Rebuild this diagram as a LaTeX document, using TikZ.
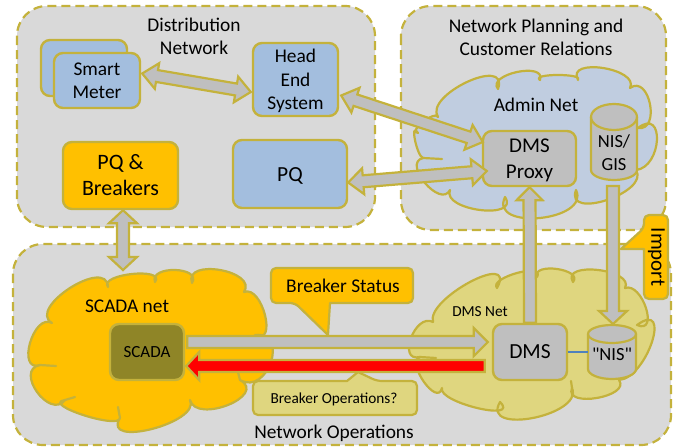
\documentclass[tikz,border=0pt]{standalone}
\usepackage{fontspec}
\setmainfont{Carlito}
\newfontfamily\plainf{Carlito}
\usetikzlibrary{calc}
\definecolor{lineol}{HTML}{C4B23C}
\definecolor{panelgr}{HTML}{D9D9D9}
\definecolor{boxblue}{HTML}{A3BEDE}
\definecolor{cloudblue}{HTML}{C0CDE0}
\definecolor{amber}{HTML}{FFC000}
\definecolor{midgr}{HTML}{BFBFBF}
\definecolor{paleol}{HTML}{DFD67F}
\definecolor{darkol}{HTML}{8F8527}
\definecolor{linkblue}{HTML}{4F81BD}
\newcommand{\low}[2]{\raisebox{-#1}[\height][\depth]{\begin{tabular}{@{}c@{}}#2\end{tabular}}}
\newcommand{\lobe}[3]{.. controls ($(#1)!-0.22!(#3)+1.3333*(#2)-0.6667*(#1)-0.6667*(#3)$) and ($(#3)!-0.22!(#1)+1.3333*(#2)-0.6667*(#1)-0.6667*(#3)$) .. (#3)}
\newcommand{\twoway}[6][arrowbody]{\draw[#1] (#2)
 -- ($(#2)!#6!(#3)!#5!90:(#3)$) -- ($(#2)!#6!(#3)!#4!90:(#3)$)
 -- ($(#3)!#6!(#2)!#4!-90:(#2)$) -- ($(#3)!#6!(#2)!#5!-90:(#2)$)
 -- (#3)
 -- ($(#3)!#6!(#2)!#5!90:(#2)$) -- ($(#3)!#6!(#2)!#4!90:(#2)$)
 -- ($(#2)!#6!(#3)!#4!-90:(#3)$) -- ($(#2)!#6!(#3)!#5!-90:(#3)$) -- cycle;}
\newcommand{\oneway}[6][arrowbody]{\draw[#1] ($(#2)!#4!90:(#3)$)
 -- ($(#3)!#6!(#2)!#4!-90:(#2)$) -- ($(#3)!#6!(#2)!#5!-90:(#2)$)
 -- (#3)
 -- ($(#3)!#6!(#2)!#5!90:(#2)$) -- ($(#3)!#6!(#2)!#4!90:(#2)$)
 -- ($(#2)!#4!-90:(#3)$) -- cycle;}
\tikzset{
 panel/.style={draw=lineol,fill=panelgr,line width=2.2pt,dash pattern=on 9pt off 5pt,rounded corners=30pt},
 cloudline/.style={draw=lineol,line width=2.2pt,line join=round},
 tail/.style={draw=lineol,line width=2.2pt,line cap=round},
 boxnode/.style={draw=lineol,line width=2.4pt,rounded corners=9pt,inner sep=0pt,align=center,font=\fontsize{19.4}{23.5}\selectfont},
 bluebox/.style={boxnode,fill=boxblue},
 label/.style={inner sep=0pt,align=center,font=\fontsize{19.4}{23}\selectfont},
 cyl/.style={draw=lineol,fill=midgr,line width=2.2pt},
 callout/.style={draw=lineol,line width=2.2pt,line join=round},
 arrowbody/.style={draw=lineol,fill=midgr,line width=2.2pt,line join=miter,miter limit=3},
 redbody/.style={draw=lineol,fill=red,line width=2.2pt,line join=miter,miter limit=3},
}
\begin{document}
\begin{tikzpicture}[x=1pt,y=-1pt]
\useasboundingbox (0,0) rectangle (676,447);
% panels
\path[panel] (17,6) rectangle (375,227);
\path[panel] (401,6) rectangle (666,230);
\path[panel] (13,244) rectangle (671,445);
\node[label] (tdist) at (194,36.5) {Distribution\\Network};
\node[label] (tplan) at (536,37.5) {Network Planning and\\Customer Relations};
\node[label] (tops) at (334,433) {Network Operations};
% clouds
\path[cloudline,fill=cloudblue] (438,117) \lobe{438,117}{467,82}{498,89} \lobe{498,89}{517,72}{540,80} \lobe{540,80}{558,75}{578,80} \lobe{578,80}{603,68}{630,88} \lobe{630,88}{650,104}{638,128} \lobe{638,128}{657,140}{636,170} \lobe{636,170}{607,200}{576,190} \lobe{576,190}{540,218}{505,197} \lobe{505,197}{480,210}{450,190} \lobe{450,190}{425,183}{423,158} \lobe{423,158}{415,140}{418,133} \lobe{418,133}{423,122}{438,117} -- cycle;
\draw[tail] (423,158) -- (442,159);
\path[cloudline,fill=amber] (52,323) \lobe{52,323}{70,288}{108,287} \lobe{108,287}{132,274}{155,282} \lobe{155,282}{175,270}{192,283} \lobe{192,283}{220,270}{244,292} \lobe{244,292}{265,315}{255,335} \lobe{255,335}{271,362}{240,380} \lobe{240,380}{228,405}{190,400} \lobe{190,400}{152,429}{120,418} \lobe{120,418}{83,415}{65,400} \lobe{65,400}{37,392}{40,365} \lobe{40,365}{30,343}{52,323} -- cycle;
\draw[tail] (40,365) -- (56,366);
\draw[tail] (240,380) -- (238,372);
\draw[tail] (120,418) -- (118,407);
\draw[tail] (65,400) -- (75,397);
\path[cloudline,fill=paleol] (433,322) \lobe{433,322}{470,282}{497,288} \lobe{497,288}{517,273}{537,277} \lobe{537,277}{557,269}{573,282} \lobe{573,282}{598,270}{625,288} \lobe{625,288}{646,308}{637,325} \lobe{637,325}{652,342}{619,380} \lobe{619,380}{597,398}{572,388} \lobe{572,388}{533,418}{500,402} \lobe{500,402}{477,408}{442,388} \lobe{442,388}{424,382}{420,357} \lobe{420,357}{411,338}{433,322} -- cycle;
\draw[tail] (420,357) -- (436,358);
\draw[tail] (572,388) -- (571,381);
\node[label] (tadmin) at (536,105) {Admin Net};
\node[label] (tscnet) at (127,306) {SCADA net};
\node[label,font=\fontsize{15.3}{18}\selectfont] (tdmsnet) at (480,312) {DMS Net};
% boxes
\node[bluebox,minimum width=86pt,minimum height=56pt] (smartback) at (84,68) {};
\node[bluebox,minimum width=86pt,minimum height=55pt] (smart) at (97,80.5) {\low{2pt}{Smart\\Meter}};
\node[bluebox,minimum width=85pt,minimum height=73pt] (head) at (295.5,79.5) {\low{2pt}{Head\\End\\System}};
\node[boxnode,fill=amber,minimum width=115pt,minimum height=67pt,font=\fontsize{22}{26}\selectfont] (pqb) at (120.5,175.5) {PQ \&\\Breakers};
\node[bluebox,minimum width=114pt,minimum height=68pt,font=\fontsize{21.5}{25}\selectfont] (pq) at (290,174) {\low{2pt}{PQ}};
\node[boxnode,fill=midgr,minimum width=93pt,minimum height=55pt,font=\fontsize{21}{26}\selectfont] (proxy) at (529.5,158.5) {\low{1.5pt}{DMS\\Proxy}};
\node[boxnode,fill=darkol,minimum width=74pt,minimum height=56pt,font=\fontsize{17}{20}\selectfont] (scada) at (147,352) {\low{1pt}{SCADA}};
\node[boxnode,fill=midgr,minimum width=74pt,minimum height=56pt,font=\fontsize{21.5}{25}\selectfont] (dms) at (530,352) {\low{1pt}{DMS}};
% cylinders
\draw[cyl] (591,117) -- (591,170) arc[start angle=180,end angle=0,x radius=23,y radius=10] -- (637,117) arc[start angle=0,end angle=-180,x radius=23,y radius=13] -- cycle;
\draw[cyl,fill=none] (591,117) arc[start angle=180,end angle=0,x radius=23,y radius=13];
\node[label,font=\fontsize{18.5}{23}\selectfont] (gis) at (614,152.5) {NIS/\\GIS};
\draw[cyl] (588,334) -- (588,369) arc[start angle=180,end angle=0,x radius=24,y radius=10] -- (636,334) arc[start angle=0,end angle=-180,x radius=24,y radius=9] -- cycle;
\draw[cyl,fill=none] (588,334) arc[start angle=180,end angle=0,x radius=24,y radius=9];
\node[label,font=\plainf\fontsize{18.5}{23}\selectfont] (nis) at (612,354) {"NIS"};
\coordinate (nisw) at (588,352);
\coordinate (nisn) at (613,324);
\coordinate (gisb) at (613,186);
\draw[linkblue,line width=2pt] (dms.east) -- (nisw);
% callouts
\draw[callout,fill=amber,rounded corners=5pt] (271,268) -- (271,303) -- (295,303) [sharp corners] -- (328,335) -- (330,303) [rounded corners=5pt] -- (413,303) -- (413,268) -- cycle;
\node[label] (tstatus) at (343,285.5) {Breaker Status};
\draw[callout,fill=paleol,rounded corners=5pt] (253,381) -- (253,415) -- (417,415) -- (417,381) -- (377,381) [sharp corners] -- (358,372) -- (347,381) [rounded corners=5pt] -- cycle;
\node[label,font=\fontsize{15.3}{18}\selectfont] (tops2) at (334,399) {Breaker Operations?};
\draw[callout,fill=amber,rounded corners=5pt] (644,215) -- (644,228) [sharp corners] -- (621,249) -- (644,249) [rounded corners=5pt] -- (644,299) -- (668,299) -- (668,215) -- cycle;
\node[label,rotate=-90,font=\fontsize{21}{25}\selectfont] (timport) at (656.5,257) {Import};
% connector end points
\coordinate (a1) at ($(smart.east)+(1,-7)$);
\coordinate (a2) at ($(head.west)+(-1,12.5)$);
\coordinate (b1) at ($(head.east)+(2,16)$);
\coordinate (b2) at ($(proxy.west)+(1,-16.5)$);
\coordinate (c1) at ($(pq.east)+(0,8.5)$);
\coordinate (c2) at ($(proxy.west)+(5,12.5)$);
\coordinate (d1) at ($(pqb.south)+(2.5,0)$);
\coordinate (d2) at (123,270);
\coordinate (f1) at ($(scada.east)+(2,-10)$);
\coordinate (f2) at ($(dms.west)+(-4,-10)$);
\coordinate (g1) at ($(dms.west)+(-7,14)$);
\coordinate (g2) at ($(scada.east)+(1,14)$);
% connectors
\twoway{a1}{a2}{6pt}{13pt}{15pt}
\twoway{b1}{b2}{6pt}{13pt}{15pt}
\twoway{c1}{c2}{6pt}{13pt}{15pt}
\twoway{d1}{d2}{6pt}{14pt}{13pt}
\oneway{dms.north}{proxy.south}{6pt}{13pt}{13pt}
\oneway{gisb}{nisn}{6pt}{14pt}{13pt}
\oneway{f1}{f2}{6pt}{14pt}{14pt}
\oneway[redbody]{g1}{g2}{6pt}{14pt}{13pt}
\end{tikzpicture}
\end{document}
